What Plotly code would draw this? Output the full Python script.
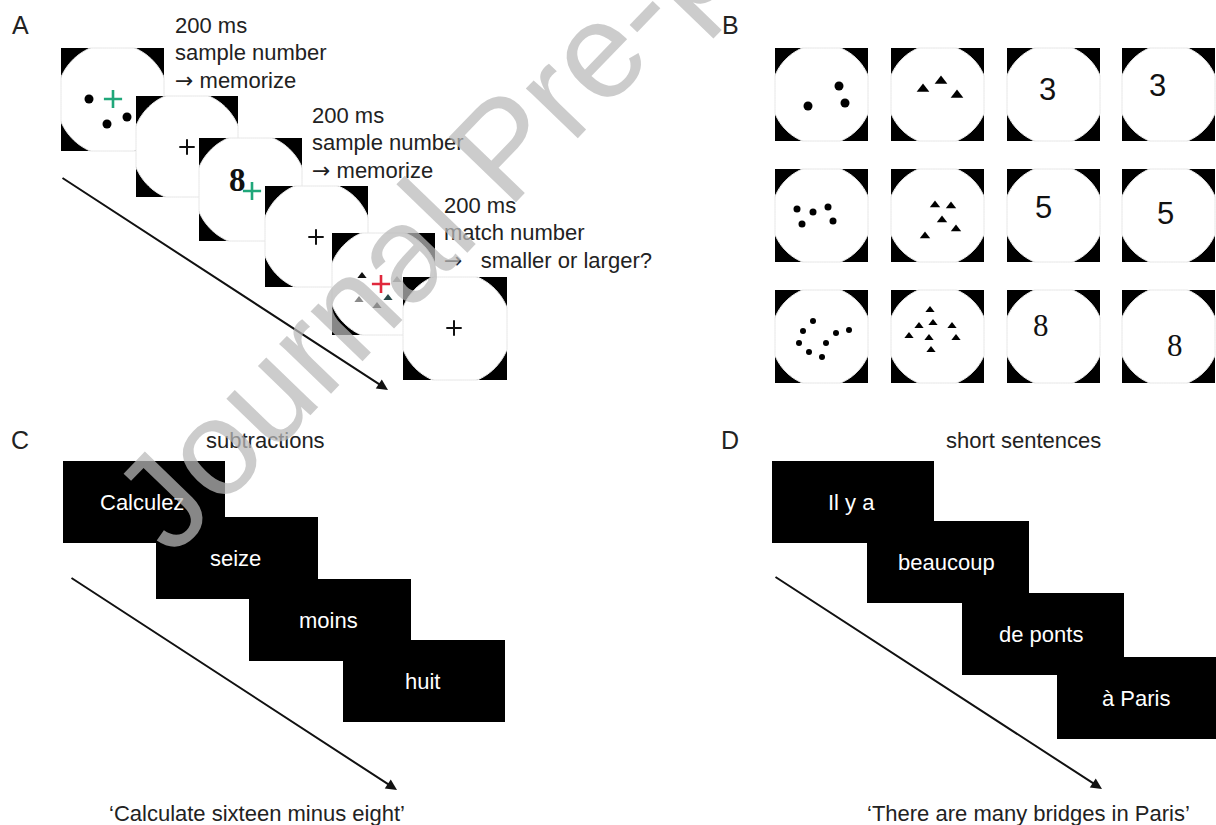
import numpy as np
import plotly.graph_objects as go

W, H = 1216, 825
SANS = "Liberation Sans, Arial, DejaVu Sans"
SERIF = "Liberation Serif, Times New Roman, serif"
ARROW = "<span style='font-family:DejaVu Sans'>\u2192</span>"

# ---------------- Panel A : trial sequence ----------------
a_frame_x = [61, 136, 199, 265, 332, 403]
a_frame_y = [48, 96, 138, 186, 233, 277]
a_frame_w = [103, 102, 103, 103, 103, 104]
a_frame_h = [103, 101, 103, 101, 102, 103]
a_cross_colors = ["#20a77a", "#111111", "#20a77a", "#111111", "#e0283c", "#111111"]
a_cross_x = [113, 187, 252, 316, 381, 454]
a_cross_y = [99, 147, 191, 237, 284, 328]
a_dots_x = [89, 107, 127]
a_dots_y = [99, 124, 117]
a_digit = "8"
a_digit_xy = (237, 180)
a_tri_x = [362, 397, 359, 388, 377]
a_tri_y = [276, 280, 300, 298, 306]
a_tri_colors = ["#111111", "#8a8a8a", "#8a8a8a", "#2a4848", "#111111"]
a_text_blocks = [
    ["200 ms", "sample number", ARROW + " memorize"],
    ["200 ms", "sample number", ARROW + " memorize"],
    ["200 ms", "match number", ARROW + "   smaller or larger?"],
]
a_text_x = [173, 310, 442]
a_text_y = [25, 115, 205]
a_arrow = ((61, 177), (388, 390))

# ---------------- Panel B : stimulus grid ----------------
b_col_x = [775, 891, 1007, 1122]
b_row_y = [48, 169, 290]
b_size = 93
b_dots = [
    ([839, 808, 845], [86, 106, 103]),
    ([797, 813, 828, 802, 833], [209, 212, 207, 224, 221]),
    ([813, 803, 799, 809, 822, 826, 836, 849], [321, 331, 343, 352, 357, 343, 333, 330]),
]
b_dot_size = [9, 7, 6]
b_tris = [
    ([941, 923, 957], [81, 89, 95]),
    ([935, 951, 942, 925, 956], [205, 206, 220, 236, 229]),
    ([930, 919, 933, 952, 909, 929, 956, 931], [310, 326, 323, 326, 336, 338, 338, 350]),
]
b_tri_size = [11, 9, 8]
b_numbers = ["3", "5", "8"]
b_num_col3 = [(1047, 89), (1043, 207), (1041, 325)]
b_num_col4 = [(1157, 85), (1165, 213), (1175, 345)]
b_num_fonts = [SANS, SANS, SERIF]

# ---------------- Panels C and D : word sequences ----------------
c_words = ["Calculez", "seize", "moins", "huit"]
c_rect_x = [63, 156, 249, 343]
c_rect_y = [461, 517, 579, 640]
d_words = ["Il y a", "beaucoup", "de ponts", "\u00e0 Paris"]
d_rect_x = [772, 867, 962, 1057]
d_rect_y = [461, 521, 593, 657]
rect_w, rect_h = 162, 82
c_title, d_title = "subtractions", "short sentences"
c_trans = "\u2018Calculate sixteen minus eight\u2019"
d_trans = "\u2018There are many bridges in Paris\u2019"
c_arrow = ((70, 577), (397, 790))
d_arrow = ((774, 576), (1102, 789))

panel_labels = ["A", "B", "C", "D"]
panel_label_xy = [(20, 25), (730, 25), (20, 440), (730, 440)]
watermark = "Journal Pre-proof"

# ---------------- build ----------------
shapes = []
annotations = []


def frame(x0, y0, w, h, ratio):
    x1, y1 = x0 + w, y0 + h
    cx, cy = (x0 + x1) / 2, (y0 + y1) / 2
    r = ratio * min(w, h) / 2
    shapes.append(dict(type="rect", x0=x0, y0=y0, x1=x1, y1=y1,
                       fillcolor="#000000", line=dict(width=0), layer="below"))
    t = np.linspace(0, 2 * np.pi, 181)
    px = np.clip(cx + r * np.cos(t), x0, x1)
    py = np.clip(cy + r * np.sin(t), y0, y1)
    path = "M " + " L ".join(f"{a:.2f},{b:.2f}" for a, b in zip(px, py)) + " Z"
    shapes.append(dict(type="path", path=path, fillcolor="#ffffff",
                       line=dict(color="#e6e6e6", width=1), layer="below"))


fig = go.Figure()

for i in range(6):
    frame(a_frame_x[i], a_frame_y[i], a_frame_w[i], a_frame_h[i], 1.09)

for bx in b_col_x:
    for by in b_row_y:
        frame(bx, by, b_size, b_size, 1.08)

for x0, y0 in zip(c_rect_x + d_rect_x, c_rect_y + d_rect_y):
    shapes.append(dict(type="rect", x0=x0, y0=y0, x1=x0 + rect_w, y1=y0 + rect_h,
                       fillcolor="#000000", line=dict(width=0), layer="below"))

# Panel A marks
fig.add_trace(go.Scatter(x=a_dots_x, y=a_dots_y, mode="markers",
                         marker=dict(size=9, color="#000000"), hoverinfo="skip"))
fig.add_trace(go.Scatter(x=a_tri_x, y=a_tri_y, mode="markers",
                         marker=dict(size=8, symbol="triangle-up", color=a_tri_colors),
                         hoverinfo="skip"))
for cx, cy, col in zip(a_cross_x, a_cross_y, a_cross_colors):
    big = col != "#111111"
    fig.add_trace(go.Scatter(x=[cx], y=[cy], mode="markers",
                             marker=dict(size=13 if big else 11, symbol="cross-thin",
                                         line=dict(color=col, width=2.6 if big else 2)),
                             hoverinfo="skip"))
annotations.append(dict(x=a_digit_xy[0], y=a_digit_xy[1], text=f"<b>{a_digit}</b>",
                        showarrow=False, font=dict(family=SERIF, size=33, color="#111111")))

for blk, tx, ty in zip(a_text_blocks, a_text_x, a_text_y):
    for k, line in enumerate(blk):
        annotations.append(dict(x=tx, y=ty + 27.5 * k, text=line, showarrow=False,
                                xanchor="left", yanchor="middle",
                                font=dict(family=SANS, size=22, color="#222222")))

# Panel B marks
for (xs, ys), s in zip(b_dots, b_dot_size):
    fig.add_trace(go.Scatter(x=xs, y=ys, mode="markers",
                             marker=dict(size=s, color="#000000"), hoverinfo="skip"))
for (xs, ys), s in zip(b_tris, b_tri_size):
    fig.add_trace(go.Scatter(x=xs, y=ys, mode="markers",
                             marker=dict(size=s, symbol="triangle-up", color="#000000"),
                             hoverinfo="skip"))
for num, p3, p4, fam in zip(b_numbers, b_num_col3, b_num_col4, b_num_fonts):
    for p in (p3, p4):
        annotations.append(dict(x=p[0], y=p[1], text=num, showarrow=False,
                                font=dict(family=fam, size=31, color="#111111")))

# Panels C, D words
for w, x0, y0 in zip(c_words + d_words, c_rect_x + d_rect_x, c_rect_y + d_rect_y):
    annotations.append(dict(x=x0 + rect_w * 0.49, y=y0 + rect_h / 2, text=w, showarrow=False,
                            font=dict(family=SANS, size=22, color="#ffffff")))

for txt, x, y in ((c_title, 265, 440), (d_title, 1023, 440),
                  (c_trans, 257, 813), (d_trans, 1028, 813)):
    annotations.append(dict(x=x, y=y, text=txt, showarrow=False,
                            font=dict(family=SANS, size=22, color="#222222")))

for (s, e) in (a_arrow, c_arrow, d_arrow):
    annotations.append(dict(x=e[0], y=e[1], ax=s[0], ay=s[1], xref="x", yref="y",
                            axref="x", ayref="y", text="", showarrow=True,
                            arrowhead=2, arrowsize=1.1, arrowwidth=2, arrowcolor="#111111"))

for lab, (lx, ly) in zip(panel_labels, panel_label_xy):
    annotations.append(dict(x=lx, y=ly, text=lab, showarrow=False,
                            font=dict(family=SANS, size=25, color="#222222")))

annotations.append(dict(x=503, y=148, text=watermark, showarrow=False, textangle=-46,
                        font=dict(family=SANS, size=136, color="rgba(185,185,185,0.73)")))

fig.update_layout(
    width=W, height=H, margin=dict(l=0, r=0, t=0, b=0),
    paper_bgcolor="#ffffff", plot_bgcolor="#ffffff", showlegend=False,
    xaxis=dict(range=[0, W], visible=False, fixedrange=True),
    yaxis=dict(range=[H, 0], visible=False, fixedrange=True),
    shapes=shapes, annotations=annotations,
)
fig.write_html("out.html", config={"displayModeBar": False},
               post_script="document.body.style.margin='0';document.body.style.overflow='hidden';")
